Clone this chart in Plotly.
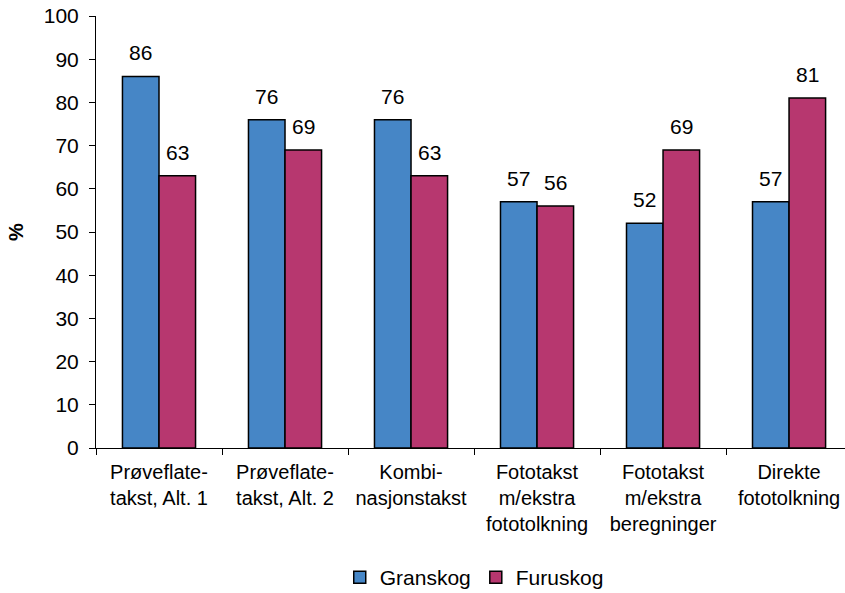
import plotly.graph_objects as go

categories = [
    "Prøveflate-<br>takst, Alt. 1",
    "Prøveflate-<br>takst, Alt. 2",
    "Kombi-<br>nasjonstakst",
    "Fototakst<br>m/ekstra<br>fototolkning",
    "Fototakst<br>m/ekstra<br>beregninger",
    "Direkte<br>fototolkning",
]
granskog = [86, 76, 76, 57, 52, 57]
furuskog = [63, 69, 63, 56, 69, 81]
y_ticks = list(range(0, 101, 10))

BLUE = "#4686C6"
MAGENTA = "#B7376F"
FONT = "Liberation Sans, Arial, sans-serif"

fig = go.Figure()
fig.add_trace(go.Bar(
    name="Granskog", x=categories, y=granskog,
    marker=dict(color=BLUE, line=dict(color="black", width=1.5)),
))
fig.add_trace(go.Bar(
    name="Furuskog", x=categories, y=furuskog,
    marker=dict(color=MAGENTA, line=dict(color="black", width=1.5)),
))

# value labels above each bar
for i, cat in enumerate(categories):
    for vals, off in ((granskog, -0.145), (furuskog, 0.145)):
        fig.add_annotation(
            x=i + off, y=vals[i], xref="x", yref="y",
            text=str(vals[i]), showarrow=False,
            yanchor="bottom", yshift=10,
            font=dict(size=21, color="black", family=FONT),
        )

fig.update_layout(
    width=845, height=593,
    margin=dict(l=96, r=0, t=16, b=145, autoexpand=False),
    paper_bgcolor="white", plot_bgcolor="white",
    barmode="group", bargap=0.42, bargroupgap=0,
    font=dict(family=FONT, size=20, color="black"),
    showlegend=True,
    legend=dict(
        orientation="h", x=0.505, xanchor="center", xref="paper",
        y=-0.300, yanchor="middle",
        font=dict(size=21), itemwidth=30, traceorder="normal",
    ),
)
fig.update_xaxes(
    range=[-0.5, 5.444],
    showline=True, linecolor="black", linewidth=1,
    ticks="outside", tickson="boundaries", ticklen=6, tickcolor="black",
    tickfont=dict(size=20), ticklabelstandoff=6,
    showgrid=False, zeroline=False,
)
fig.update_yaxes(
    range=[0, 100], tickvals=y_ticks,
    showline=True, linecolor="black", linewidth=1,
    ticks="outside", ticklen=6, tickcolor="black",
    tickfont=dict(size=21), ticklabelstandoff=6,
    showgrid=False, zeroline=False,
    title=dict(text="<b>%</b>", font=dict(size=20), standoff=14),
)

fig.write_html("out.html")
